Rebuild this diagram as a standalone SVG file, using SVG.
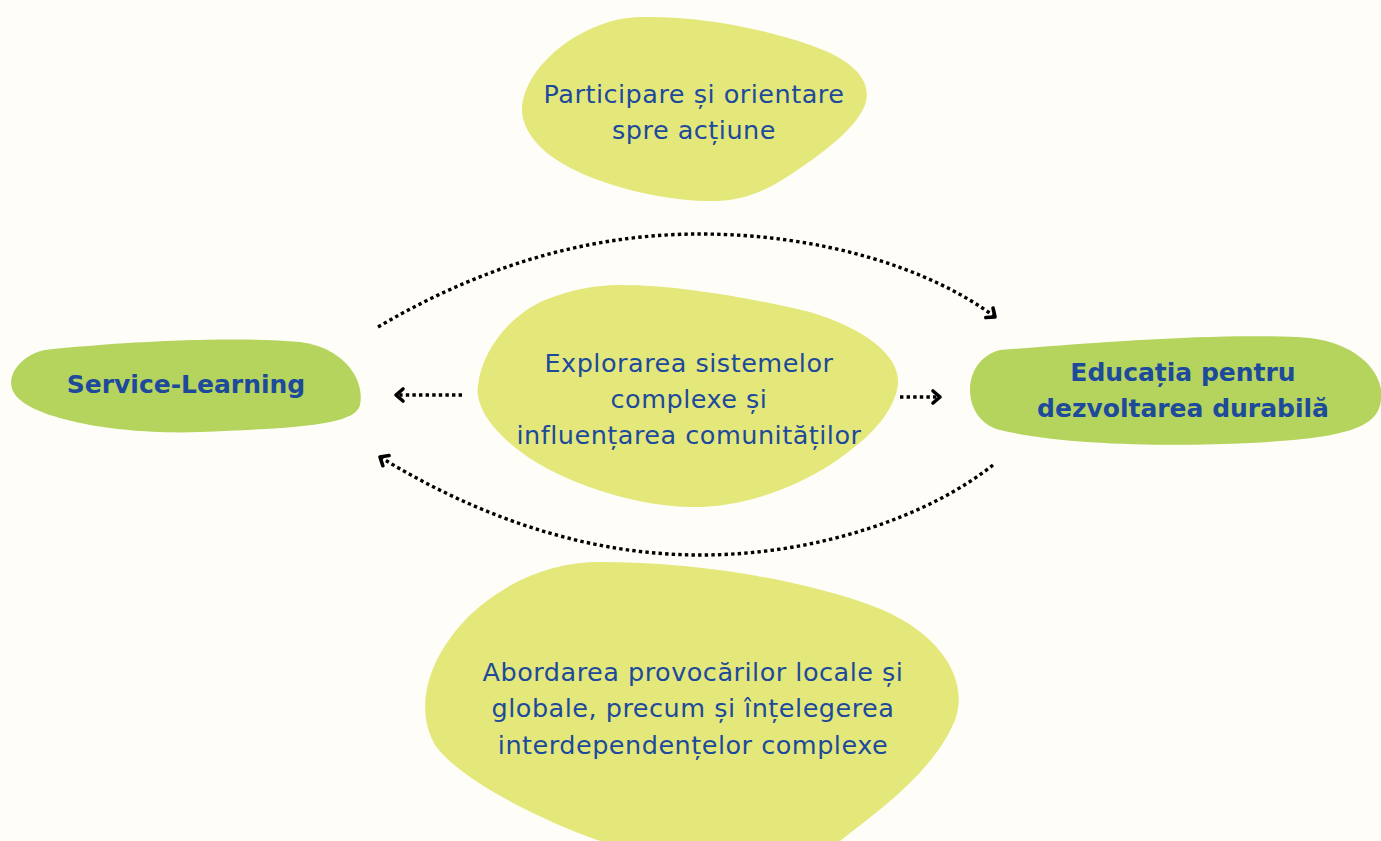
<svg xmlns="http://www.w3.org/2000/svg" width="1381" height="841" viewBox="0 0 1381 841">
<defs>
<style>
.bg{fill:#FEFDF8}
.light{fill:#E4E87B}
.green{fill:#B5D45E}
.t{font-family:"DejaVu Sans","Liberation Sans",sans-serif;font-size:25.5px;letter-spacing:0.5px;fill:#1D4A9A;text-anchor:middle}
.b{font-family:"DejaVu Sans","Liberation Sans",sans-serif;font-size:25px;font-weight:bold;fill:#1D4A9A;text-anchor:middle}
.c{fill:none;stroke:#000;stroke-width:3.4;stroke-dasharray:3.4 3.2}
</style>
<marker id="ah" markerUnits="userSpaceOnUse" markerWidth="18" markerHeight="18" refX="11" refY="9" orient="auto">
<path d="M4,3 L11,9 L4,15" fill="none" stroke="#000" stroke-width="3.6" stroke-linecap="round" stroke-linejoin="round"/>
</marker>
</defs>
<rect class="bg" x="0" y="0" width="1381" height="841"/>
<g id="node-top">
<path class="light" d="M643 17 C700 16,760 28,810 45 C860 62,872 85,865 105 C855 130,820 155,790 175 C760 195,735 202,705 201 C660 200,600 185,565 165 C530 145,518 120,523 100 C530 70,560 40,600 25 C615 19,630 17,643 17 Z"/>
<text class="t" x="694" y="103">Participare și orientare</text>
<text class="t" x="694" y="139">spre acțiune</text>
</g>
<g id="node-middle">
<path class="light" d="M620 285 C680 285,750 298,810 312 C870 330,905 360,897 390 C890 420,860 445,830 465 C790 490,740 508,690 507 C630 506,560 480,525 455 C490 430,475 405,478 385 C482 350,510 315,545 300 C570 290,595 285,620 285 Z"/>
<text class="t" x="689" y="372">Explorarea sistemelor</text>
<text class="t" x="689" y="408">complexe și</text>
<text class="t" x="689" y="444">influențarea comunităților</text>
</g>
<g id="node-bottom">
<path class="light" d="M600 562 C700 562,800 580,870 605 C940 630,970 680,955 720 C935 770,880 810,840 841 L600 841 C540 820,460 780,435 745 C415 710,425 660,470 615 C510 578,555 562,600 562 Z"/>
<text class="t" x="693" y="681">Abordarea provocărilor locale și</text>
<text class="t" x="693" y="717">globale, precum și înțelegerea</text>
<text class="t" x="693" y="754">interdependențelor complexe</text>
</g>
<g id="node-sl">
<path class="green" d="M45 350 C120 342,230 336,300 342 C345 348,365 380,360 405 C355 425,300 428,200 432 C120 435,40 420,18 398 C0 380,20 355,45 350 Z"/>
<text class="b" x="186" y="393">Service-Learning</text>
</g>
<g id="node-edd">
<path class="green" d="M1000 350 C1100 342,1230 332,1310 338 C1360 344,1385 375,1381 400 C1378 430,1340 438,1250 443 C1170 447,1060 445,1000 430 C960 420,960 360,1000 350 Z"/>
<text class="b" x="1183" y="381">Educația pentru</text>
<text class="b" x="1183" y="417">dezvoltarea durabilă</text>
</g>
<g id="connectors">
<path class="c" d="M378 327 C500 255,610 234,700 234 C820 234,930 268,995 317" marker-end="url(#ah)"/>
<path class="c" d="M993 465 C930 515,820 555,700 555 C580 555,470 512,380 457" marker-end="url(#ah)"/>
<path class="c" d="M462 395 L396 395" marker-end="url(#ah)"/>
<path class="c" d="M900 397 L940 397" marker-end="url(#ah)"/>
</g>
</svg>
